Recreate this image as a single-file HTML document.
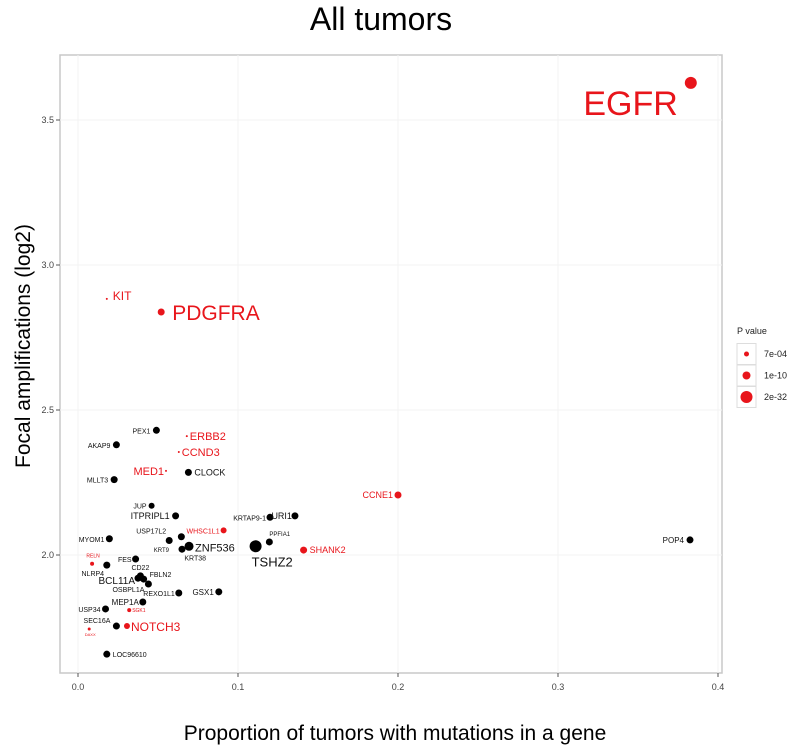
<!DOCTYPE html>
<html><head><meta charset="utf-8"><style>
html,body{margin:0;padding:0;background:#fff;}
svg{display:block;font-family:"Liberation Sans",Arial,sans-serif;}
</style></head><body>
<svg id="chart" width="800" height="751"></svg>
<script>
const genes = ["EGFR","KIT","PDGFRA","PEX1","AKAP9","ERBB2","CCND3","MED1","CLOCK","MLLT3","JUP","ITPRIPL1","KRTAP9-1","URI1","CCNE1","WHSC1L1","USP17L2","KRT38","MYOM1","PPFIA1","KRT9","ZNF536","TSHZ2","SHANK2","POP4","RELN","NLRP4","FES","CD22","BCL11A","FBLN2","OSBPL1A","REXO1L1","GSX1","MEP1A","SGK1","USP34","SEC16A","NOTCH3","DAXX","LOC96610"];
const mutProp = [0.383,0.018,0.052,0.049,0.024,0.068,0.063,0.055,0.069,0.0226,0.046,0.061,0.12,0.1356,0.2,0.091,0.057,0.0646,0.0196,0.1196,0.065,0.0694,0.111,0.141,0.3825,0.0088,0.018,0.036,0.039,0.0375,0.041,0.044,0.063,0.088,0.0405,0.032,0.0172,0.024,0.0306,0.007,0.018];
const focalAmp = [3.628,2.883,2.838,2.43,2.38,2.41,2.355,2.29,2.285,2.26,2.17,2.135,2.13,2.135,2.207,2.085,2.05,2.063,2.056,2.045,2.02,2.03,2.03,2.017,2.052,1.97,1.965,1.986,1.928,1.92,1.917,1.90,1.869,1.873,1.838,1.81,1.814,1.755,1.755,1.745,1.658];
const significant = [1,1,1,0,0,1,1,1,0,0,0,0,0,0,1,1,0,0,0,0,0,0,0,1,0,1,0,0,0,0,0,0,0,0,0,1,0,0,1,1,0];
const xTicks = [0.0,0.1,0.2,0.3,0.4];
const yTicks = [2.0,2.5,3.0,3.5];
const legendLabels = ["7e-04","1e-10","2e-32"];

// styling per gene: [radius, fontSize, anchor, dx, dyBaseline]
const style = {
 "EGFR":[6,34,"end",-13,32],"KIT":[1,12,"start",6,1],"PDGFRA":[3.5,21,"start",11,8],"PEX1":[3.5,7,"end",-6,3],
 "AKAP9":[3.5,7,"end",-6,3],"ERBB2":[1,11,"start",3,4],"CCND3":[1,11,"start",3,4],"MED1":[1,11,"end",-2,4],
 "CLOCK":[3.5,9,"start",6,3],"MLLT3":[3.5,7,"end",-6,3],"JUP":[3,7,"end",-5,3],"ITPRIPL1":[3.5,9,"end",-6,3],
 "KRTAP9-1":[3.5,7,"end",-4,3],"URI1":[3.5,9,"end",-3,3],"CCNE1":[3.5,9,"end",-5,3],"WHSC1L1":[3,7,"end",-4,3],
 "USP17L2":[3.5,7,"end",-3,-7],"KRT38":[3.5,7,"start",3,24],"MYOM1":[3.5,7,"end",-5,3],"PPFIA1":[3.5,6,"start",0,-6],
 "KRT9":[3.5,6,"end",-13,3],"ZNF536":[4.5,11,"start",6,5],"TSHZ2":[6,13,"start",-4,20],"SHANK2":[3.5,9,"start",6,3],
 "POP4":[3.5,8,"end",-6,3],"RELN":[2,5,"middle",1,-6],"NLRP4":[3.5,7,"middle",-14,11],"FES":[3.5,7,"end",-4,3],
 "CD22":[3.5,7,"middle",0,-6],"BCL11A":[3.5,10,"end",-3,6],"FBLN2":[3.5,7,"start",6,-2],"OSBPL1A":[3.5,7,"end",-4,8],
 "REXO1L1":[3.5,7,"end",-4,3],"GSX1":[3.5,8,"end",-5,3],"MEP1A":[3.5,8,"end",-4,3],"SGK1":[2,5,"start",3,2],
 "USP34":[3.5,7,"end",-5,3],"SEC16A":[3.5,7,"end",-6,-3],"NOTCH3":[3,12,"start",4,5],"DAXX":[1.5,4,"middle",1,7],
 "LOC96610":[3.5,7,"start",6,3]
};

const L=60,R=722,T=55,B=673;
const xs = v => 78 + v*1600;
const ys = v => 555 - (v-2)*290;
const NS="http://www.w3.org/2000/svg";
const svg=document.getElementById('chart');
function mk(tag,attrs,parent){const e=document.createElementNS(NS,tag);for(const k in attrs)e.setAttribute(k,attrs[k]);(parent||svg).appendChild(e);return e;}

const title=mk('text',{x:381,y:30,'text-anchor':'middle','font-size':32,fill:'#000'});
title.textContent='All tumors';



const panel=mk('rect',{x:L,y:T,width:R-L,height:B-T,fill:'#fff',stroke:'#c8c8c8','stroke-width':1.5});



xTicks.forEach((t,i)=>{
 const x=xs(t);
 const g=mk('line',{x1:x,x2:x,y1:T,y2:B,stroke:'#f3f3f3','stroke-width':1});
 
 
 mk('line',{x1:x,x2:x,y1:B,y2:B+4,stroke:'#555'});
 const tl=mk('text',{x:x,y:B+17,'text-anchor':'middle','font-size':9,fill:'#444'});
 tl.textContent=t.toFixed(1);
 
 
});
yTicks.forEach(t=>{
 const y=ys(t);
 const g=mk('line',{x1:L,x2:R,y1:y,y2:y,stroke:'#f3f3f3','stroke-width':1});
 
 
 mk('line',{x1:L-4,x2:L,y1:y,y2:y,stroke:'#555'});
 const tl=mk('text',{x:L-6,y:y+3,'text-anchor':'end','font-size':9,fill:'#444'});
 tl.textContent=t.toFixed(1);
 
 
});

const xt=mk('text',{x:395,y:740,'text-anchor':'middle','font-size':21,fill:'#000'});
xt.textContent='Proportion of tumors with mutations in a gene';


const yt=mk('text',{x:0,y:0,'text-anchor':'middle','font-size':21,fill:'#000',transform:'translate(30,346) rotate(-90)'});
yt.textContent='Focal amplifications (log2)';



genes.forEach((g,i)=>{
 const s=style[g]||[3.5,7,"start",5,3];
 const x=xs(mutProp[i]), y=ys(focalAmp[i]);
 const col=significant[i]?'#e8151b':'#000';
 if(s[0]>0){
  const c=mk('circle',{cx:x,cy:y,r:s[0],fill:col});
  
  
 }
 const t=mk('text',{x:x+s[3],y:y+s[4],'text-anchor':s[2],'font-size':s[1],fill:significant[i]?'#e8151b':'#111'});
 t.textContent=g;
 
 
});

// legend
const lt=mk('text',{x:737,y:334,'font-size':9,fill:'#222'});
lt.textContent='P value';


const lr=[2.5,4,6];
legendLabels.forEach((lab,i)=>{
 const y=354+i*21.5;
 const box=mk('rect',{x:737,y:y-10.5,width:19,height:21,fill:'#fff',stroke:'#ddd'});
 
 
 const c=mk('circle',{cx:746.5,cy:y,r:lr[i],fill:'#e8151b'});
 
 
 const t=mk('text',{x:764,y:y+3,'font-size':9,fill:'#222'});
 t.textContent=lab;
 
 
});
</script>
</body></html>
